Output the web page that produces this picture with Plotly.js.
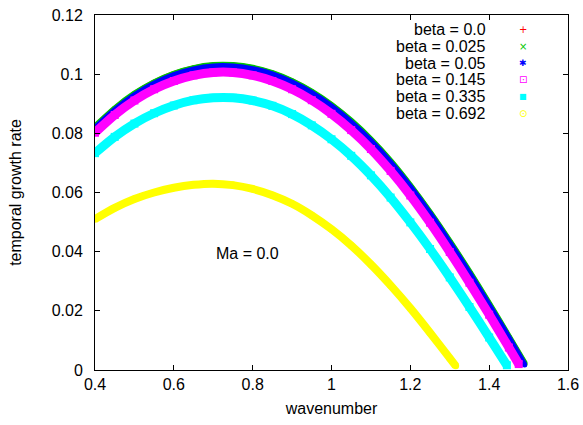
<!DOCTYPE html>
<html>
<head>
<meta charset="utf-8">
<script src="https://cdn.plot.ly/plotly-3.0.1.min.js"></script>
<style>html,body{margin:0;padding:0;background:#fff;}#chart{width:583px;height:425px;}</style>
</head>
<body>
<div id="chart"></div>
<script>
// wavenumber samples and growth rates
var kBlue = [0.40,0.45,0.50,0.55,0.60,0.65,0.70,0.75,0.80,0.85,0.90,0.95,1.00,1.05,1.10,1.15,1.20,1.25,1.30,1.35,1.40,1.45,1.49];
var beta000 = [0.0821,0.0882,0.0932,0.0971,0.1000,0.1019,0.1029,0.1029,0.1020,0.1002,0.0975,0.0939,0.0894,0.0840,0.0777,0.0704,0.0621,0.0530,0.0432,0.0329,0.0221,0.0110,0.0020];
var beta025 = [0.0821,0.0882,0.0932,0.0971,0.1000,0.1019,0.1029,0.1029,0.1020,0.1002,0.0975,0.0939,0.0894,0.0840,0.0777,0.0704,0.0621,0.0530,0.0432,0.0329,0.0221,0.0110,0.0020];
var beta050 = [0.0818,0.0879,0.0929,0.0968,0.0997,0.1016,0.1026,0.1026,0.1017,0.0999,0.0972,0.0936,0.0891,0.0837,0.0774,0.0701,0.0618,0.0527,0.0429,0.0326,0.0218,0.0108,0.0017];
var kMag = [0.40,0.45,0.50,0.55,0.60,0.65,0.70,0.75,0.80,0.85,0.90,0.95,1.00,1.05,1.10,1.15,1.20,1.25,1.30,1.35,1.40,1.45,1.475];
var beta145 = [0.0802,0.0862,0.0911,0.0949,0.0977,0.0996,0.1006,0.1006,0.0996,0.0977,0.0949,0.0912,0.0866,0.0811,0.0747,0.0673,0.0590,0.0498,0.0399,0.0295,0.0187,0.0076,0.0020];
var kCyan = [0.40,0.45,0.50,0.55,0.60,0.65,0.70,0.75,0.80,0.85,0.90,0.95,1.00,1.05,1.10,1.15,1.20,1.25,1.30,1.35,1.40,1.445];
var beta335 = [0.0733,0.0788,0.0833,0.0868,0.0894,0.0912,0.0920,0.0920,0.0911,0.0893,0.0865,0.0827,0.0780,0.0724,0.0658,0.0583,0.0499,0.0409,0.0313,0.0213,0.0110,0.0016];
var kYel = [0.40,0.45,0.50,0.55,0.60,0.65,0.70,0.75,0.80,0.85,0.90,0.95,1.00,1.05,1.10,1.15,1.20,1.25,1.30,1.315];
var beta692 = [0.0510,0.0548,0.0578,0.0600,0.0616,0.0626,0.0630,0.0625,0.0612,0.0591,0.0562,0.0523,0.0476,0.0421,0.0357,0.0286,0.0209,0.0126,0.0040,0.0014];

var seriesNames = ["beta = 0.0","beta = 0.025","beta = 0.05","beta = 0.145","beta = 0.335","beta = 0.692"];
var seriesColors = ["#ff0000","#00c800","#0000ff","#ff00ff","#00ffff","#ffff00"];
var legendGlyphs = ["+","\u00d7","\u2731","\u22a1","\u25a0","\u2299"];
var xTicks = [0.4,0.6,0.8,1,1.2,1.4,1.6];
var yTicks = [0,0.02,0.04,0.06,0.08,0.1,0.12];

var xs = [kBlue,kBlue,kBlue,kMag,kCyan,kYel];
var ys = [beta000,beta025,beta050,beta145,beta335,beta692];
var widths = [6,7,6,9,9,8];
var glyphSizes = [10,10,9,10,8,10];

var traces = [];
for (var i=0;i<6;i++){
  traces.push({
    x: xs[i], y: ys[i], name: seriesNames[i], type:'scatter', mode:'lines+markers',
    line:{color:seriesColors[i], width:widths[i], shape:'spline', smoothing:0.8},
    marker:{color:seriesColors[i], size:widths[i]-1, symbol: (i==3||i==4) ? 'square' : 'circle'},
    showlegend:false, hoverinfo:'skip'
  });
}

var FONT = "Liberation Sans, Arial, sans-serif";
var annotations = [];
for (var j=0;j<6;j++){
  annotations.push({xref:'paper',yref:'paper',x:(488-95)/473,y:(370-(29.5+16.8*j))/355,
    xanchor:'right',yanchor:'middle',text:seriesNames[j],showarrow:false,
    font:{family:FONT,size:16,color:'#000'}});
  annotations.push({xref:'paper',yref:'paper',x:(523-95)/473,y:(370-(29.5+16.8*j))/355,
    xanchor:'center',yanchor:'middle',text:legendGlyphs[j],showarrow:false,
    font:{family:'DejaVu Sans',size:glyphSizes[j],color:seriesColors[j]}});
}
annotations.push({xref:'paper',yref:'paper',x:(247-95)/473,y:(370-253)/355,xanchor:'center',yanchor:'middle',
  text:'Ma = 0.0',showarrow:false,font:{family:FONT,size:16,color:'#000'}});

var layout = {
  width:583,height:425,
  margin:{l:95,r:15,t:15,b:55,pad:0},
  paper_bgcolor:'#fff',plot_bgcolor:'#fff',
  font:{family:FONT,size:16,color:'#000'},
  showlegend:false,
  xaxis:{range:[0.4,1.6],tickvals:xTicks,ticktext:xTicks.map(String),ticks:'inside',ticklen:5,tickcolor:'#000',
    showline:true,linecolor:'#000',linewidth:1,mirror:'ticks',showgrid:false,zeroline:false,
    title:{text:'wavenumber',font:{family:FONT,size:16},standoff:10},tickfont:{family:FONT,size:16}},
  yaxis:{range:[0,0.12],tickvals:yTicks,ticktext:yTicks.map(String),ticks:'inside',ticklen:5,tickcolor:'#000',
    showline:true,linecolor:'#000',linewidth:1,mirror:'ticks',showgrid:false,zeroline:false,
    ticklabelstandoff:8,
    title:{text:'temporal growth rate',font:{family:FONT,size:16},standoff:26},tickfont:{family:FONT,size:16}},
  annotations:annotations
};
Plotly.newPlot('chart',traces,layout,{displayModeBar:false,staticPlot:true});
</script>
</body>
</html>
